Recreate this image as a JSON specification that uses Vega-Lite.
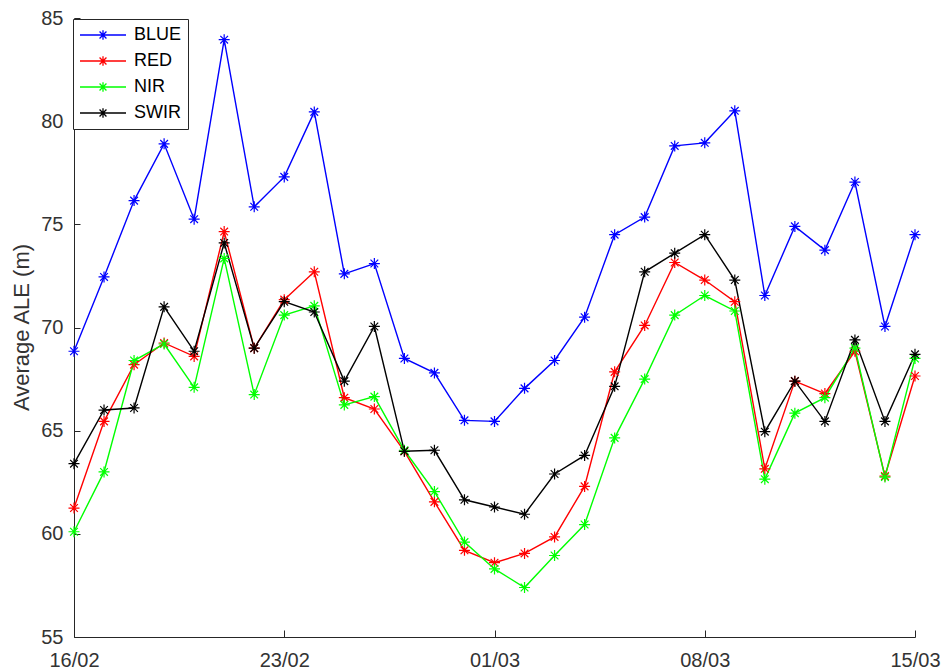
{
  "$schema": "https://vega.github.io/schema/vega-lite/v6.json",
  "width": 841,
  "height": 619,
  "autosize": {"type": "none"},
  "padding": {"left": 74, "top": 18, "right": 30, "bottom": 33},
  "background": "white",
  "config": {
    "view": {"stroke": null},
    "font": "Liberation Sans",
    "axis": {
      "grid": false,
      "domainColor": "#262626",
      "domainWidth": 1,
      "tickColor": "#262626",
      "tickWidth": 1,
      "labelColor": "#333333",
      "labelFont": "Liberation Sans",
      "labelFontSize": 20,
      "titleFont": "Liberation Sans",
      "titleColor": "#333333",
      "titleFontWeight": "normal"
    }
  },
  "data": {
    "values": [
      {"date": "2016-02-16", "BLUE": 68.85, "RED": 61.25, "NIR": 60.1, "SWIR": 63.4},
      {"date": "2016-02-17", "BLUE": 72.45, "RED": 65.45, "NIR": 63.0, "SWIR": 66.0},
      {"date": "2016-02-18", "BLUE": 76.15, "RED": 68.2, "NIR": 68.4, "SWIR": 66.1},
      {"date": "2016-02-19", "BLUE": 78.9, "RED": 69.25, "NIR": 69.2, "SWIR": 71.0},
      {"date": "2016-02-20", "BLUE": 75.25, "RED": 68.6, "NIR": 67.1, "SWIR": 68.85},
      {"date": "2016-02-21", "BLUE": 83.95, "RED": 74.65, "NIR": 73.35, "SWIR": 74.1},
      {"date": "2016-02-22", "BLUE": 75.85, "RED": 69.0, "NIR": 66.75, "SWIR": 69.0},
      {"date": "2016-02-23", "BLUE": 77.3, "RED": 71.35, "NIR": 70.6, "SWIR": 71.25},
      {"date": "2016-02-24", "BLUE": 80.45, "RED": 72.7, "NIR": 71.05, "SWIR": 70.75},
      {"date": "2016-02-25", "BLUE": 72.6, "RED": 66.6, "NIR": 66.25, "SWIR": 67.4},
      {"date": "2016-02-26", "BLUE": 73.1, "RED": 66.05, "NIR": 66.65, "SWIR": 70.05},
      {"date": "2016-02-27", "BLUE": 68.5, "RED": 64.0, "NIR": 64.05, "SWIR": 64.0},
      {"date": "2016-02-28", "BLUE": 67.8, "RED": 61.55, "NIR": 62.05, "SWIR": 64.05},
      {"date": "2016-02-29", "BLUE": 65.5, "RED": 59.2, "NIR": 59.6, "SWIR": 61.65},
      {"date": "2016-03-01", "BLUE": 65.45, "RED": 58.6, "NIR": 58.3, "SWIR": 61.3},
      {"date": "2016-03-02", "BLUE": 67.05, "RED": 59.05, "NIR": 57.4, "SWIR": 60.95},
      {"date": "2016-03-03", "BLUE": 68.4, "RED": 59.85, "NIR": 58.95, "SWIR": 62.9},
      {"date": "2016-03-04", "BLUE": 70.5, "RED": 62.3, "NIR": 60.45, "SWIR": 63.8},
      {"date": "2016-03-05", "BLUE": 74.5, "RED": 67.85, "NIR": 64.65, "SWIR": 67.15},
      {"date": "2016-03-06", "BLUE": 75.35, "RED": 70.1, "NIR": 67.5, "SWIR": 72.7},
      {"date": "2016-03-07", "BLUE": 78.8, "RED": 73.15, "NIR": 70.6, "SWIR": 73.6},
      {"date": "2016-03-08", "BLUE": 78.95, "RED": 72.3, "NIR": 71.55, "SWIR": 74.5},
      {"date": "2016-03-09", "BLUE": 80.5, "RED": 71.25, "NIR": 70.8, "SWIR": 72.3},
      {"date": "2016-03-10", "BLUE": 71.55, "RED": 63.15, "NIR": 62.65, "SWIR": 64.95},
      {"date": "2016-03-11", "BLUE": 74.9, "RED": 67.4, "NIR": 65.85, "SWIR": 67.4},
      {"date": "2016-03-12", "BLUE": 73.75, "RED": 66.8, "NIR": 66.6, "SWIR": 65.45},
      {"date": "2016-03-13", "BLUE": 77.05, "RED": 68.85, "NIR": 69.0, "SWIR": 69.4},
      {"date": "2016-03-14", "BLUE": 70.05, "RED": 62.8, "NIR": 62.75, "SWIR": 65.45},
      {"date": "2016-03-15", "BLUE": 74.5, "RED": 67.65, "NIR": 68.5, "SWIR": 68.7}
    ]
  },
  "transform": [
    {"fold": ["BLUE", "RED", "NIR", "SWIR"], "as": ["band", "ale"]}
  ],
  "encoding": {
    "x": {
      "field": "date",
      "type": "temporal",
      "scale": {
        "type": "utc",
        "domain": [
          {"year": 2016, "month": 2, "date": 16, "utc": true},
          {"year": 2016, "month": 3, "date": 15, "utc": true}
        ]
      },
      "axis": {
        "title": null,
        "values": [
          {"year": 2016, "month": 2, "date": 16, "utc": true},
          {"year": 2016, "month": 2, "date": 23, "utc": true},
          {"year": 2016, "month": 3, "date": 1, "utc": true},
          {"year": 2016, "month": 3, "date": 8, "utc": true},
          {"year": 2016, "month": 3, "date": 15, "utc": true}
        ],
        "labelExpr": "utcFormat(datum.value, '%d/%m')",
        "tickSize": -7,
        "labelPadding": 20,
        "labelFlush": false,
        "labelOverlap": false
      }
    },
    "y": {
      "field": "ale",
      "type": "quantitative",
      "scale": {"domain": [55, 85], "nice": false, "zero": false},
      "axis": {
        "title": "Average ALE (m)",
        "values": [55, 60, 65, 70, 75, 80, 85],
        "tickSize": -6,
        "labelPadding": 17,
        "titleFontSize": 22,
        "titleAngle": -90,
        "titleAlign": "center",
        "titleBaseline": "alphabetic",
        "titleX": -46,
        "titleY": 309
      }
    },
    "color": {
      "field": "band",
      "type": "nominal",
      "scale": {
        "domain": ["BLUE", "RED", "NIR", "SWIR"],
        "range": ["#0000ff", "#ff0000", "#00ff00", "#000000"]
      },
      "legend": {
        "title": null,
        "orient": "none",
        "legendX": -1,
        "legendY": 1,
        "symbolType": "M-1,0L1,0M0,-0.21L0,0.21M-0.15,-0.15L0.15,0.15M-0.15,0.15L0.15,-0.15",
        "symbolSize": 2116,
        "symbolStrokeWidth": 1.3,
        "labelFontSize": 18,
        "labelColor": "#000000",
        "labelOffset": 7,
        "padding": 6,
        "clipHeight": 20,
        "rowPadding": 6,
        "strokeColor": "#262626",
        "fillColor": "white"
      }
    }
  },
  "layer": [
    {"mark": {"type": "line", "strokeWidth": 1.4}},
    {
      "mark": {
        "type": "point",
        "shape": "M-1,0L1,0M0,-1L0,1M-0.7,-0.7L0.7,0.7M-0.7,0.7L0.7,-0.7",
        "filled": false,
        "size": 121,
        "strokeWidth": 1.2,
        "opacity": 1
      }
    }
  ]
}
